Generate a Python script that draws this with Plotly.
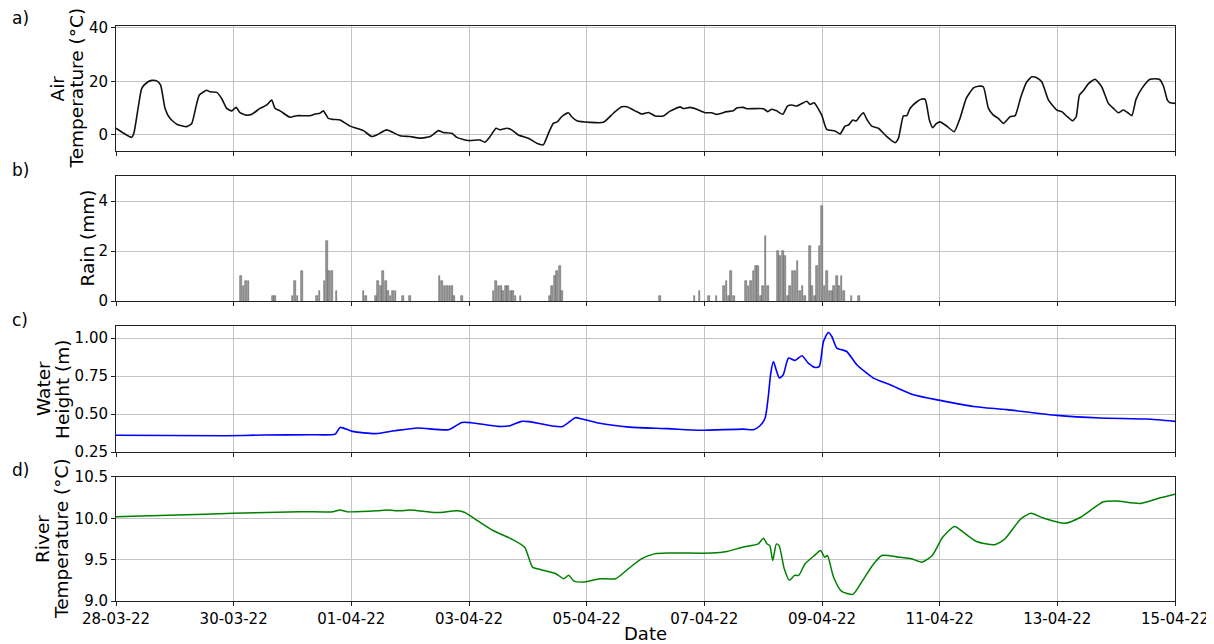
import pandas as pd
import plotly.graph_objects as go
from plotly.subplots import make_subplots

START = pd.Timestamp("2022-03-28 00:00")

# ---------------- data (hours since START, value) ----------------
air_hours = [0, 6.4, 7.3, 9.1, 10.5, 12.5, 14.6, 16.6, 18.2, 20.0, 22.0, 24.8, 28.8, 30.9, 32.6, 34.0, 37.0,
             38.3, 41.1, 43.1, 45.2, 47.2, 49.0, 50.6, 53.3, 55.4, 58.7, 61.5, 63.5, 64.9, 66.9, 71.0, 73.7,
             79.1, 81.2, 83.2, 84.6, 86.6, 88.7, 91.4, 95.5, 100.9, 104.3, 106.4, 110.4, 115.9, 119.9, 124.0,
             128.1, 131.5, 133.5, 137.0, 139.0, 143.7, 147.2, 148.5, 150.5, 152.6, 155.0, 156.7, 159.4, 161.4,
             164.1, 168.2, 171.6, 174.3, 176.4, 178.4, 180.0, 181.8, 184.5, 185.9, 188.0, 193.4, 198.8, 202.9,
             206.3, 208.4, 211.7, 214.5, 217.2, 219.9, 223.3, 226.0, 230.1, 231.4, 234.2, 236.9, 240.3, 243.0,
             245.1, 249.1, 251.8, 253.2, 255.9, 257.3, 264.1, 265.9, 267.5, 269.5, 272.0, 273.9, 275.7, 277.7,
             281.8, 283.1, 284.8, 287.9, 289.9, 293.3, 295.4, 297.4, 298.8, 300.6, 301.9, 303.6, 304.9, 306.3,
             308.3, 311.0, 314.4, 317.8, 319.2, 321.2, 322.6, 323.9, 326.7, 328.7, 330.1, 331.8, 333.2, 334.5,
             336.2, 338.9, 341.9, 344.3, 346.8, 349.8, 351.8, 353.8, 355.9, 357.9, 359.9, 362.0, 364.7, 366.8,
             369.1, 371.5, 373.6, 375.6, 377.7, 380.4, 383.8, 385.8, 388.1, 390.3, 391.7, 393.0, 394.6, 396.7,
             399.4, 402.1, 404.8, 406.9, 408.9, 410.9, 412.6, 414.4, 416.1, 418.5, 421.8, 425.6, 427.3, 428.9,
             430.0, 432.0]
air_temp = [2.5, -0.9, 0.7, 10.5, 17.4, 19.5, 20.4, 20.2, 18.6, 9.9, 6.2, 4.0, 3.1, 4.3, 10.5, 14.9, 16.7,
            16.1, 15.9, 13.6, 9.9, 9.0, 10.3, 8.3, 7.4, 7.7, 9.9, 11.2, 13.0, 9.9, 9.0, 6.6, 7.2,
            7.2, 7.8, 8.1, 9.0, 6.2, 5.8, 5.6, 3.3, 1.6, -0.6, 0.0, 1.9, -0.3, -0.6, -1.2,
            -0.6, 1.6, 0.9, 0.6, -0.9, -2.1, -1.9, -1.9, -2.7, -0.6, 2.5, 1.9, 2.5, 1.9,
            0.0, -1.2, -3.1, -3.7, 0.6, 4.3, 4.9, 6.8, 8.3, 6.8, 5.3, 4.7, 4.7, 8.1,
            10.5, 10.5, 9.0, 7.8, 8.4, 7.1, 7.1, 8.9, 10.5, 9.9, 10.3, 9.6, 8.3, 8.3,
            7.7, 8.7, 9.0, 10.1, 10.3, 9.8, 9.8, 8.7, 9.6, 9.0, 7.7, 10.8, 11.2, 10.8,
            12.6, 11.4, 12.0, 7.4, 2.1, 1.5, 0.4, 3.3, 3.7, 5.6, 5.2, 7.2, 8.3, 5.8,
            3.3, 2.5, -0.6, -2.9, -1.2, 7.1, 7.2, 9.9, 12.4, 13.4, 13.3, 5.6, 2.7, 4.1,
            4.9, 3.3, 1.2, 6.2, 13.6, 17.6, 18.2, 18.0, 9.9, 7.4, 6.2, 4.3, 6.8, 7.2,
            14.2, 19.8, 21.7, 21.4, 19.8, 13.0, 9.3, 8.7, 6.8, 5.3, 6.8, 14.9, 16.5, 19.2,
            20.8, 18.0, 11.8, 9.9, 8.3, 9.3, 8.4, 7.2, 13.3, 17.4, 20.8, 20.8, 18.2, 13.0,
            12.0, 11.8]

rain_hours = [51, 52, 53, 54, 64, 65, 72, 73, 74, 76, 82, 83, 85, 86, 87, 88, 90,
              101, 102, 106, 107, 108, 109, 110, 111, 112, 113, 114, 117, 120,
              132, 133, 134, 135, 136, 137, 138, 141,
              154, 155, 156, 157, 158, 159, 160, 161, 162, 163, 165,
              177, 178, 179, 180, 181, 182, 222,
              236, 238, 242, 245, 248, 249, 250, 251, 252,
              257, 258, 259, 260, 261, 262, 263, 264, 265, 266,
              270, 271, 272, 273, 274, 275, 276, 277, 278, 279, 280, 281,
              283, 284, 285, 286, 287, 288, 289, 290, 291, 292, 293, 294, 295, 296, 297,
              300, 303]
rain_mm = [1.0, 0.6, 0.8, 0.8, 0.2, 0.2, 0.2, 0.8, 0.2, 1.2, 0.2, 0.4, 0.8, 2.4, 1.2, 1.2, 0.4,
           0.4, 0.2, 0.2, 0.8, 0.6, 1.2, 0.8, 0.4, 0.2, 0.4, 0.4, 0.2, 0.2,
           1.0, 0.8, 0.6, 0.6, 0.6, 0.6, 0.2, 0.2,
           0.4, 0.8, 0.6, 0.6, 0.4, 0.6, 0.6, 0.4, 0.4, 0.2, 0.2,
           0.2, 0.6, 1.0, 1.2, 1.4, 0.4, 0.2,
           0.2, 0.4, 0.2, 0.2, 0.6, 0.8, 0.2, 1.2, 0.2,
           0.8, 0.6, 0.8, 1.2, 1.4, 1.4, 0.2, 0.6, 2.6, 0.6,
           2.0, 1.8, 2.0, 1.8, 0.2, 0.6, 1.2, 1.2, 1.6, 0.4, 0.6, 0.2,
           2.2, 0.6, 0.2, 1.4, 2.2, 3.8, 0.6, 1.2, 0.4, 0.4, 0.6, 1.0, 0.6, 1.0, 0.4,
           0.2, 0.2]

water_hours = [0, 44.6, 60.3, 79.2, 89.4, 91.4, 96.4, 105.8, 113.7, 123.1, 135.7, 141.1, 145.0, 156.1,
               160.7, 165.4, 168.6, 181.9, 187.4, 189.8, 196.8, 209.4, 225.1, 238.3, 255.9, 260.0,
               262.7, 264.8, 266.1, 267.1, 268.2, 269.3, 270.6, 272.2, 274.3, 277.0, 279.8, 282.4,
               285.2, 286.9, 288.6, 290.6, 292.0, 294.0, 296.1, 298.1, 302.2, 309.0, 315.8, 325.3,
               336.2, 349.8, 363.4, 383.8, 401.5, 420.5, 432.0]
water_m = [0.360, 0.357, 0.362, 0.364, 0.368, 0.412, 0.386, 0.371, 0.390, 0.408, 0.397, 0.445, 0.443, 0.419,
           0.423, 0.452, 0.450, 0.417, 0.476, 0.469, 0.441, 0.414, 0.404, 0.393, 0.401, 0.397,
           0.423, 0.474, 0.616, 0.770, 0.846, 0.792, 0.737, 0.759, 0.868, 0.853, 0.884, 0.836,
           0.807, 0.814, 0.978, 1.037, 1.011, 0.934, 0.923, 0.912, 0.825, 0.737, 0.693, 0.627,
           0.590, 0.550, 0.529, 0.491, 0.474, 0.467, 0.452]

river_hours = [0, 24.8, 47.9, 75.0, 88.7, 91.4, 94.1, 106.4, 110.4, 115.9, 120.1, 130.7, 139.2, 142.3,
               147.6, 154.0, 161.4, 166.7, 169.9, 173.1, 179.4, 182.6, 184.7, 186.8, 191.1, 197.4,
               203.8, 209.0, 214.3, 219.6, 226.0, 242.9, 249.3, 255.6, 262.0, 264.1, 265.6, 266.7,
               267.9, 269.4, 270.5, 272.6, 274.7, 276.8, 278.5, 281.1, 285.3, 287.4, 289.1, 290.2,
               292.7, 295.9, 300.6, 304.4, 308.6, 312.4, 319.2, 324.5, 328.8, 333.0, 337.2, 342.1,
               345.7, 351.0, 358.4, 362.6, 369.0, 373.2, 378.5, 387.0, 393.3, 402.8, 408.1, 417.7,
               425.1, 432.0]
river_temp = [10.02, 10.04, 10.06, 10.08, 10.08, 10.10, 10.08, 10.09, 10.10, 10.09, 10.10, 10.07, 10.09, 10.07,
              9.97, 9.85, 9.75, 9.65, 9.41, 9.38, 9.33, 9.27, 9.31, 9.24, 9.23, 9.27,
              9.27, 9.39, 9.51, 9.57, 9.58, 9.58, 9.60, 9.65, 9.69, 9.76, 9.69, 9.67,
              9.49, 9.69, 9.67, 9.39, 9.25, 9.31, 9.31, 9.45, 9.56, 9.61, 9.53, 9.55,
              9.29, 9.12, 9.08, 9.24, 9.43, 9.55, 9.53, 9.51, 9.47, 9.55, 9.77, 9.90,
              9.83, 9.72, 9.68, 9.75, 9.99, 10.06, 10.00, 9.94, 10.01, 10.20, 10.21, 10.18,
              10.24, 10.29]

x_tick_days = [0, 2, 4, 6, 8, 10, 12, 14, 16, 18]
panel_labels = ["a)", "b)", "c)", "d)"]
y_title_lines = [["Air", "Temperature (°C)"], ["Rain (mm)"], ["Water", "Height (m)"],
                 ["River", "Temperature (°C)"]]


def to_time(hours):
    return START + pd.to_timedelta(pd.Series(hours, dtype=float), unit="h")


FONT = "DejaVu Sans"
fig = make_subplots(rows=4, cols=1, shared_xaxes=True, vertical_spacing=0.0435)

fig.add_trace(go.Scatter(x=to_time(air_hours), y=air_temp, mode="lines",
                         line=dict(color="#111111", width=1.6, shape="spline", smoothing=0.5)), row=1, col=1)
fig.add_trace(go.Bar(x=to_time(rain_hours), y=rain_mm, width=0.7 * 3600 * 1000,
                     marker=dict(color="#999999", line=dict(color="#666666", width=0.6))), row=2, col=1)
fig.add_trace(go.Scatter(x=to_time(water_hours), y=water_m, mode="lines",
                         line=dict(color="#0000ff", width=1.6, shape="spline", smoothing=0.6)), row=3, col=1)
fig.add_trace(go.Scatter(x=to_time(river_hours), y=river_temp, mode="lines",
                         line=dict(color="#008000", width=1.5, shape="spline", smoothing=0.6)), row=4, col=1)

domains = [[0.7826, 1.0], [0.5217, 0.7391], [0.2591, 0.4783], [0.0, 0.2157]]
yranges = [[-6, 40.7], [0, 5], [0.25, 1.08], [9.0, 10.5]]
ydticks = [20, 2, 0.25, 0.5]
yfmts = ["d", "d", ".2f", ".1f"]
ytick0 = [0, 0, 0.5, 9.0]

tickvals = [START + pd.Timedelta(days=d) for d in x_tick_days]
ticktext = [t.strftime("%d-%m-%y") for t in tickvals]

axis_common = dict(showline=True, mirror=True, linecolor="#222222", linewidth=1,
                   ticks="outside", ticklen=4, tickcolor="#222222", automargin=False,
                   showgrid=True, gridcolor="#c4c4c4", gridwidth=1, zeroline=False,
                   tickfont=dict(family=FONT, size=15, color="black"))

for i in range(4):
    xa = "xaxis" if i == 0 else f"xaxis{i + 1}"
    ya = "yaxis" if i == 0 else f"yaxis{i + 1}"
    fig.layout[xa].update(**axis_common, range=[tickvals[0], tickvals[-1]], tickvals=tickvals,
                          ticktext=ticktext, showticklabels=(i == 3))
    fig.layout[ya].update(**axis_common, domain=domains[i], range=yranges[i], tick0=ytick0[i],
                          dtick=ydticks[i], tickformat=yfmts[i])

fig.layout.xaxis4.title = dict(text="Date", font=dict(family=FONT, size=18, color="black"), standoff=4)

# y-axis titles as rotated annotations (horizontal pixel offsets from the plot's left edge)
PLOT_W = 1059.0
title_offsets = [[-58, -39], [-28], [-72, -53], [-73, -54]]
for lines, offs, dom in zip(y_title_lines, title_offsets, domains):
    for txt, off in zip(lines, offs):
        fig.add_annotation(text=txt, xref="paper", yref="paper", x=off / PLOT_W, y=(dom[0] + dom[1]) / 2,
                           xanchor="center", yanchor="middle", textangle=-90, showarrow=False,
                           font=dict(family=FONT, size=18.5, color="black"))

label_y = [1.014, 0.7496, 0.4887, 0.2278]
for lab, ly in zip(panel_labels, label_y):
    fig.add_annotation(text=lab, xref="paper", yref="paper", x=-0.1, y=ly, xanchor="left", yanchor="middle",
                       showarrow=False, font=dict(family=FONT, size=17, color="black"))

# the page body has an 8px margin, so the figure is sized to fit the 1214x644 window
fig.update_layout(width=1206, height=636, margin=dict(l=108, r=39, t=18, b=43),
                  paper_bgcolor="white", plot_bgcolor="white", showlegend=False, bargap=0,
                  font=dict(family=FONT, size=15, color="black"))

fig.write_html("out.html")
